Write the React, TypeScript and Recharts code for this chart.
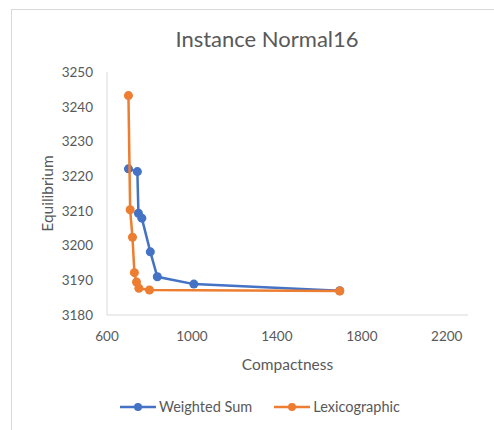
import { Label, Legend, Scatter, ScatterChart, XAxis, YAxis } from "recharts";

const weightedX = [701, 743, 748, 764, 804, 837, 1009, 1696];
const weightedY = [3222.1, 3221.3, 3209.3, 3207.9, 3198.2, 3191.0, 3188.9, 3187.0];
const lexX = [701, 709, 720, 729, 739, 750, 800, 1696];
const lexY = [3243.2, 3210.3, 3202.4, 3192.2, 3189.5, 3187.7, 3187.2, 3186.9];
const xTicks = [600, 1000, 1400, 1800, 2200];
const yTicks = [3180, 3190, 3200, 3210, 3220, 3230, 3240, 3250];

const BLUE = "#4472C4";
const ORANGE = "#ED7D31";
const TEXT = "#595959";
const AXIS = "#D9D9D9";
const FONT = "Lato, 'Open Sans', sans-serif";

const weighted = weightedX.map((x, i) => ({ x, y: weightedY[i] }));
const lexico = lexX.map((x, i) => ({ x, y: lexY[i] }));

const series = [
  { name: "Weighted Sum", color: BLUE },
  { name: "Lexicographic", color: ORANGE },
];

function LegendContent() {
  return (
    <div
      style={{
        display: "flex",
        justifyContent: "flex-start",
        paddingLeft: 73,
        gap: 22,
        fontFamily: FONT,
        fontSize: 14.5,
        color: TEXT,
      }}
    >
      {series.map((s) => (
        <span key={s.name} style={{ display: "flex", alignItems: "center" }}>
          <svg width={36} height={12}>
            <line x1={0} y1={6} x2={36} y2={6} stroke={s.color} strokeWidth={2.5} />
            <circle cx={18} cy={6} r={4} fill={s.color} />
          </svg>
          <span style={{ marginLeft: 3 }}>{s.name}</span>
        </span>
      ))}
    </div>
  );
}

export default function App() {
  return (
    <div
      style={{
        position: "absolute",
        left: 0,
        top: 0,
        width: 494,
        height: 430,
        background: "#fff",
        overflow: "hidden",
      }}
    >
      <div
        style={{
          position: "absolute",
          left: 11,
          top: 9,
          width: 600,
          height: 600,
          border: `1px solid ${AXIS}`,
        }}
      />
      <div
        style={{
          position: "absolute",
          left: 0,
          top: 25,
          width: 534,
          textAlign: "center",
          fontFamily: FONT,
          fontSize: 22,
          color: TEXT,
        }}
      >
        Instance Normal16
      </div>
      <ScatterChart
        width={494}
        height={430}
        margin={{ top: 72, right: 26, bottom: 30, left: 47 }}
        style={{ position: "absolute", left: 0, top: 0 }}
      >
        <XAxis
          type="number"
          dataKey="x"
          domain={[600, 2300]}
          ticks={xTicks}
          interval={0}
          allowDataOverflow
          height={55}
          stroke={AXIS}
          tickLine={false}
          tickSize={0}
          tickMargin={16}
          tick={{ fill: TEXT, fontSize: 13.5, fontFamily: FONT }}
        >
          <Label
            value="Compactness"
            position="insideBottom"
            offset={0}
            style={{ fill: TEXT, fontSize: 15.5, fontFamily: FONT }}
          />
        </XAxis>
        <YAxis
          type="number"
          dataKey="y"
          domain={[3180, 3250]}
          ticks={yTicks}
          interval={0}
          width={60}
          stroke={AXIS}
          tickLine={false}
          tickSize={0}
          tickMargin={14}
          tick={{ fill: TEXT, fontSize: 13.5, fontFamily: FONT }}
        >
          <Label
            value="Equilibrium"
            angle={-90}
            position="insideLeft"
            offset={0}
            style={{ fill: TEXT, fontSize: 15.5, fontFamily: FONT, textAnchor: "middle" }}
          />
        </YAxis>
        <Legend
          verticalAlign="bottom"
          height={30}
          content={LegendContent}
          wrapperStyle={{ bottom: 2 }}
        />
        <Scatter
          name="Weighted Sum"
          data={weighted}
          fill={BLUE}
          line={{ stroke: BLUE, strokeWidth: 2.5 }}
          lineType="joint"
          isAnimationActive={false}
        />
        <Scatter
          name="Lexicographic"
          data={lexico}
          fill={ORANGE}
          line={{ stroke: ORANGE, strokeWidth: 2.5 }}
          lineType="joint"
          isAnimationActive={false}
        />
      </ScatterChart>
    </div>
  );
}
